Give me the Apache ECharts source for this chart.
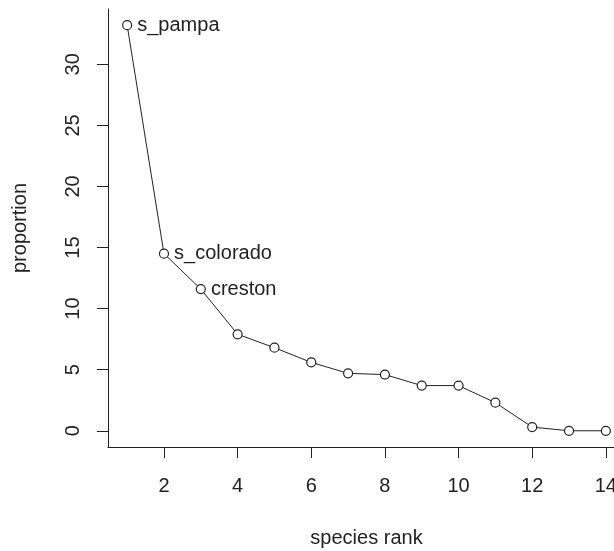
<!DOCTYPE html>
<html>
<head>
<meta charset="utf-8">
<title>species rank</title>
<script src="https://cdn.jsdelivr.net/npm/echarts@6/dist/echarts.min.js"></script>
<style>
    html, body { margin: 0; padding: 0; background: #fff; }
    #chart { width: 614px; height: 551px; }
</style>
</head>
<body>
<div id="chart"></div>
<script>
const ranks = [1, 2, 3, 4, 5, 6, 7, 8, 9, 10, 11, 12, 13, 14]
const proportions = [33.2, 14.5, 11.6, 7.9, 6.8, 5.6, 4.7, 4.6, 3.7, 3.7, 2.3, 0.3, 0, 0]
const pointLabels = ['s_pampa', 's_colorado', 'creston']
const xTicks = [2, 4, 6, 8, 10, 12, 14]
const yTicks = [0, 5, 10, 15, 20, 25, 30]

const font = 'Liberation Sans, Arial, sans-serif'
const ink = '#222'

// R pads each axis range by 4%
const padRange = (values) => {
    const lo = Math.min(...values)
    const hi = Math.max(...values)
    const pad = (hi - lo) * 0.04
    return [lo - pad, hi + pad]
}

const [xMin, xMax] = padRange(ranks)
const [yMin, yMax] = padRange(proportions)

const seriesData = ranks.map((rank, i) => {
    const item = { value: [rank, proportions[i]] }
    if (pointLabels[i]) {
        item.label = {
            show: true,
            position: 'right',
            distance: 5,
            formatter: pointLabels[i],
        }
    }
    return item
})

const axisCommon = {
    type: 'value',
    splitLine: { show: false },
    axisLine: { show: true, onZero: false, lineStyle: { color: ink, width: 1 } },
    axisTick: { show: true, length: 11, lineStyle: { color: ink, width: 1 } },
    nameLocation: 'middle',
    nameTextStyle: { color: ink, fontSize: 20, fontFamily: font },
}

const chartInstance = echarts.init(document.getElementById('chart'), null, { renderer: 'canvas' })

chartInstance.setOption({
    animation: false,
    backgroundColor: '#fff',
    // plot region runs a little past the right edge, as in the original
    grid: {
        left: 108,
        top: 9,
        width: 517,
        height: 438,
        containLabel: false,
        outerBoundsMode: 'none',
    },
    xAxis: {
        ...axisCommon,
        min: xMin,
        max: xMax,
        name: 'species rank',
        nameGap: 81,
        axisTick: { ...axisCommon.axisTick, customValues: xTicks },
        axisLabel: {
            customValues: xTicks,
            margin: 29,
            color: ink,
            fontSize: 20,
            fontFamily: font,
        },
    },
    yAxis: {
        ...axisCommon,
        min: yMin,
        max: yMax,
        name: 'proportion',
        nameGap: 78,
        nameRotate: 90,
        axisTick: { ...axisCommon.axisTick, customValues: yTicks },
        axisLabel: {
            customValues: yTicks,
            rotate: 90,
            margin: 25,
            color: ink,
            fontSize: 20,
            fontFamily: font,
        },
    },
    series: [
        {
            type: 'line',
            data: seriesData,
            symbol: 'circle',
            symbolSize: 9,
            showAllSymbol: true,
            clip: false,
            lineStyle: { color: ink, width: 1 },
            itemStyle: { color: '#fff', borderColor: ink, borderWidth: 1.2 },
            label: {
                color: ink,
                fontSize: 20,
                fontFamily: font,
            },
            emphasis: { disabled: true },
        },
    ],
})

window.addEventListener('resize', () => chartInstance.resize())
</script>
</body>
</html>
